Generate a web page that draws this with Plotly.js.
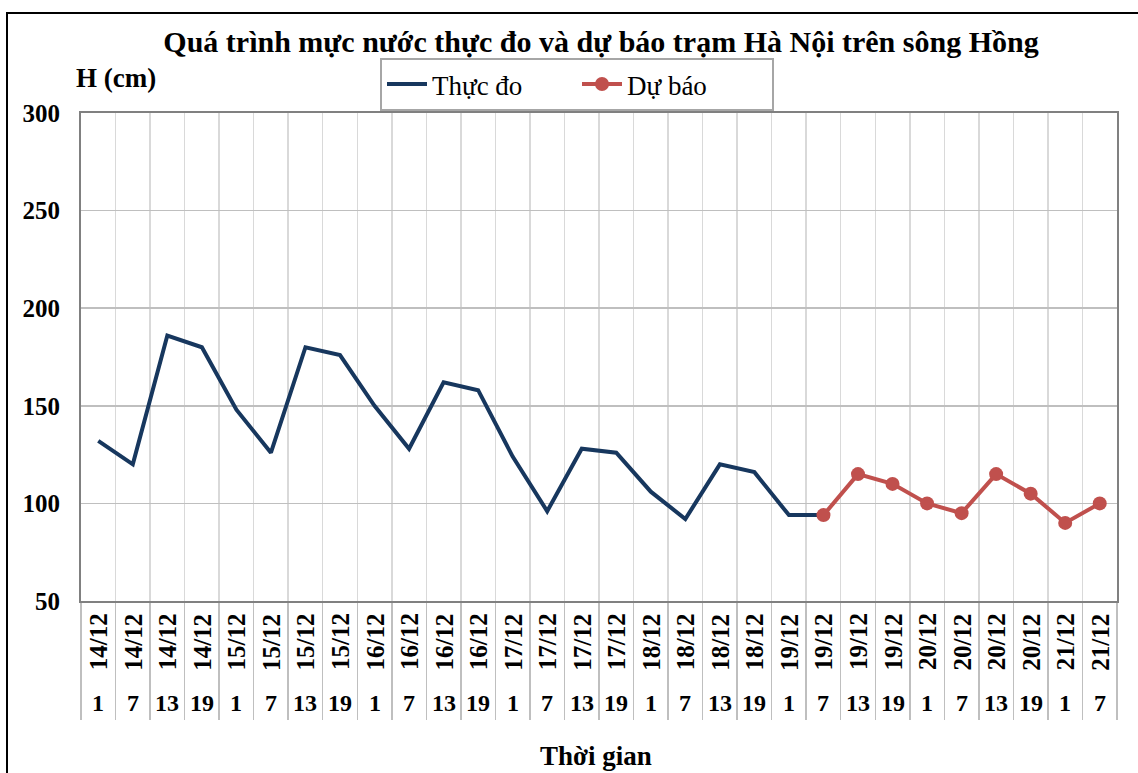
<!DOCTYPE html>
<html>
<head>
<meta charset="utf-8">
<script src="https://cdn.plot.ly/plotly-3.0.1.min.js"></script>
<style>html,body{margin:0;padding:0;background:#fff;}#chart{width:1138px;height:773px;}</style>
</head>
<body>
<div id="chart"></div>
<script>
var dates = ["14/12","14/12","14/12","14/12","15/12","15/12","15/12","15/12","16/12","16/12","16/12","16/12","17/12","17/12","17/12","17/12","18/12","18/12","18/12","18/12","19/12","19/12","19/12","19/12","20/12","20/12","20/12","20/12","21/12","21/12"];
var hours = ["1","7","13","19","1","7","13","19","1","7","13","19","1","7","13","19","1","7","13","19","1","7","13","19","1","7","13","19","1","7"];
var observed = [132,120,186,180,148,126,180,176,150,128,162,158,124,96,128,126,106,92,120,116,94,94];
var forecastStart = 21;
var forecast = [94,115,110,100,95,115,105,90,100];

var FONT = "Liberation Serif, Times New Roman, serif";
var idx = dates.map(function(_, i){ return i; });
var obsX = observed.map(function(_, i){ return i; });
var fcX = forecast.map(function(_, i){ return forecastStart + i; });

var traces = [
  {x: obsX, y: observed, type: 'scatter', mode: 'lines', name: 'Thực đo',
   line: {color: '#17375E', width: 4}},
  {x: fcX, y: forecast, type: 'scatter', mode: 'lines+markers', name: 'Dự báo',
   line: {color: '#C0504D', width: 4}, marker: {color: '#C0504D', size: 14}}
];

// pixel helpers for layout positions (plot area: l=81, t=113, paper bottom 718)
function px2x(px){ return (px - 81) / 1036; }
function py2y(py){ return (718 - py) / 605; }

var annotations = [];
idx.forEach(function(i){
  annotations.push({x: i, xref: 'x', y: py2y(642), yref: 'paper', text: dates[i],
    textangle: -90, showarrow: false, xanchor: 'center', yanchor: 'middle',
    font: {family: FONT, size: 25, color: '#000', weight: 'bold'}});
  annotations.push({x: i, xref: 'x', y: py2y(703), yref: 'paper', text: hours[i],
    showarrow: false, xanchor: 'center', yanchor: 'middle',
    font: {family: FONT, size: 24, color: '#000', weight: 'bold'}});
});
annotations.push({x: px2x(116), xref: 'paper', y: py2y(78), yref: 'paper', text: 'H (cm)',
  showarrow: false, xanchor: 'center', yanchor: 'middle',
  font: {family: FONT, size: 27, color: '#000', weight: 'bold'}});
annotations.push({x: px2x(596), xref: 'paper', y: py2y(756), yref: 'paper', text: 'Thời gian',
  showarrow: false, xanchor: 'center', yanchor: 'middle',
  font: {family: FONT, size: 27, color: '#000', weight: 'bold'}});

var layout = {
  width: 1138, height: 773,
  margin: {l: 81, r: 21, t: 113, b: 55},
  paper_bgcolor: '#fff', plot_bgcolor: '#fff',
  title: {text: 'Quá trình mực nước thực đo và dự báo trạm Hà Nội trên sông Hồng',
    x: 601/1138, xanchor: 'center', y: 1 - 41/773, yanchor: 'middle', xref: 'container', yref: 'container',
    font: {family: FONT, size: 30, color: '#000', weight: 'bold'}},
  showlegend: true,
  legend: {orientation: 'h', x: px2x(577), xanchor: 'center', y: py2y(58), yanchor: 'top',
    bordercolor: '#A6A6A6', borderwidth: 2, bgcolor: '#fff',
    font: {family: FONT, size: 27, color: '#000'}, itemwidth: 40, entrywidth: 140, tracegroupgap: 0},
  xaxis: {range: [-0.5, dates.length - 0.5], tick0: -0.5, dtick: 1, showgrid: true,
    gridcolor: '#D9D9D9', gridwidth: 1.5, zeroline: false, showticklabels: false,
    ticks: 'outside', ticklen: 117, tickcolor: '#BFBFBF', tickwidth: 1.5,
    showline: true, linecolor: '#808080', linewidth: 2, mirror: true, fixedrange: true},
  yaxis: {domain: [py2y(601), 1], range: [50, 300], dtick: 50, showgrid: true,
    gridcolor: '#BFBFBF', gridwidth: 1.5, zeroline: false, ticks: '',
    ticklabelstandoff: 14,
    tickfont: {family: FONT, size: 25, color: '#000', weight: 'bold'},
    showline: true, linecolor: '#808080', linewidth: 2, mirror: true, fixedrange: true},
  annotations: annotations,
  shapes: [
    {type: 'rect', xref: 'paper', yref: 'paper', x0: px2x(7), x1: px2x(1160), y0: py2y(800), y1: py2y(13),
     line: {color: '#000', width: 2}, fillcolor: 'rgba(0,0,0,0)'}
  ]
};

Plotly.newPlot('chart', traces, layout, {displayModeBar: false, staticPlot: true});
</script>
</body>
</html>
